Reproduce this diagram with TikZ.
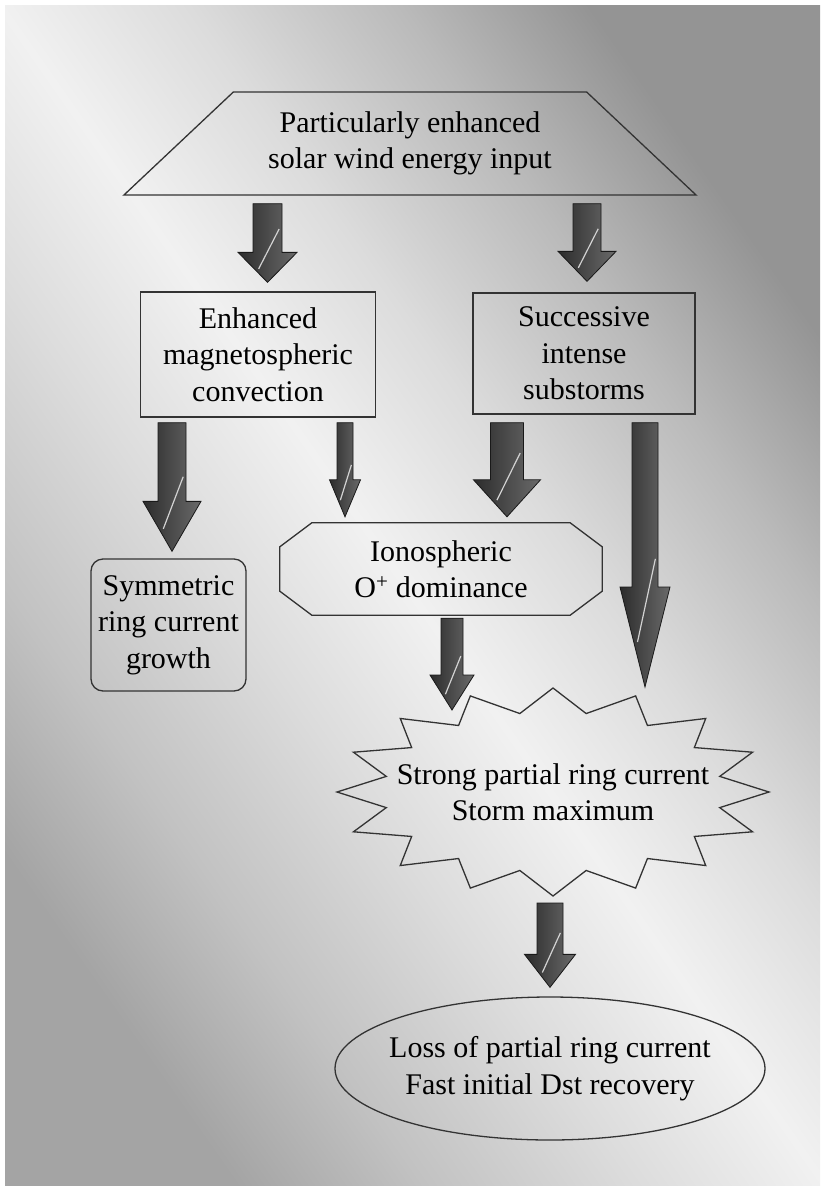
\documentclass[tikz,border=0pt]{standalone}
\usepackage{fontspec}
\setmainfont{Liberation Serif}
\usetikzlibrary{shapes.geometric,calc}

\definecolor{bglight}{HTML}{F1F1F1}
\definecolor{bgsoft}{HTML}{DCDCDC}
\definecolor{bgmidr}{HTML}{BABABA}
\definecolor{bgmidl}{HTML}{C2C2C2}
\definecolor{bgdarkr}{HTML}{949494}
\definecolor{bgdarkl}{HTML}{A4A4A4}
\definecolor{arrowdark}{HTML}{2C2C2C}
\definecolor{arrowlight}{HTML}{6A6A6A}

\pgfdeclareverticalshading{diagband}{100bp}{color(0bp)=(bgdarkl); color(25bp)=(bgdarkl);
  color(33bp)=(bgmidl); color(42bp)=(bgsoft); color(50bp)=(bglight); color(58bp)=(bgsoft);
  color(67bp)=(bgmidr); color(75bp)=(bgdarkr); color(100bp)=(bgdarkr)}

\tikzset{
  flowtext/.style={font=\fontsize{30}{36.5}\selectfont, align=center, inner sep=0pt},
  flowbox/.style={flowtext, draw=black!80, line width=1.3pt},
  outline/.style={draw=black!80, line width=1.3pt},
  fatline/.style={draw=black!90, line width=0.8pt},
  glint/.style={white!65!gray, line width=1.2pt}
}

% vertical block arrow: start, end, shaft half width, head half width, head length
\newcommand{\fatarrow}[5]{%
  \path (#1) coordinate (fa-s) (#2) coordinate (fa-t);
  \coordinate (fa-e) at (fa-s |- fa-t);
  \shade[fatline, left color=arrowdark, right color=arrowlight]
    ($(fa-s)+(-#3,0)$) -- ($(fa-s)+(#3,0)$) -- ($(fa-e)+(#3,#5)$) -- ($(fa-e)+(#4,#5)$)
    -- (fa-e) -- ($(fa-e)+(-#4,#5)$) -- ($(fa-e)+(-#3,#5)$) -- cycle;
  \draw[glint] ($(fa-e)+({-0.3*#4},{0.45*#5})$) -- ($(fa-e)+({0.8*#3},{1.1*#5+1.4*#3})$);
}

\begin{document}
\begin{tikzpicture}[x=1pt,y=1pt]
        \useasboundingbox (0,0) rectangle (820,-1186);
        \fill[white] (0,0) rectangle (820,-1186);
        \shade[shading=diagband, shading angle=-55] (5,-5) rectangle (820,-1186);

        \node[flowbox, trapezium, trapezium left angle=36, trapezium right angle=36,
          trapezium stretches=true, minimum width=575pt, minimum height=103pt] (src) at (410,-143.5)
          {Particularly enhanced\\solar wind energy input};
        \node[flowbox, minimum width=235pt, minimum height=125pt] (magconv) at (258,-354.5)
          {Enhanced\\magnetospheric\\convection};
        \node[flowbox, minimum width=222pt, minimum height=121pt] (substorm) at (584,-353.5)
          {Successive\\intense\\substorms};
        \node[flowbox, rounded corners=12pt, minimum width=155pt, minimum height=132pt] (symring) at (168.5,-625)
          {Symmetric\\ring current\\growth};
        \node[flowtext, minimum width=322pt, minimum height=92pt] (ion) at (441,-569)
          {Ionospheric\\O\textsuperscript{+} dominance};
        \node[flowtext] (storm) at (553,-792) {Strong partial ring current\\Storm maximum};
        \node[flowbox, ellipse, inner xsep=-14pt, minimum width=430pt, minimum height=143pt] (loss) at (550,-1068.5)
          {Loss of partial ring current\\Fast initial Dst recovery};

        % cut corners round the ion node
        \draw[outline] ($(ion.north west)+(32,0)$) -- ($(ion.north east)+(-32,0)$) -- ($(ion.north east)+(0,-24)$)
          -- ($(ion.south east)+(0,24)$) -- ($(ion.south east)+(-32,0)$) -- ($(ion.south west)+(32,0)$)
          -- ($(ion.south west)+(0,24)$) -- ($(ion.north west)+(0,-24)$) -- cycle;
        % starburst round the storm node
        \draw[outline, shift={(storm.center)}]
          plot[variable=\k, samples at={0,...,31}] ({(216-46*mod(\k,2))*cos(11.25*\k)},{(104-24*mod(\k,2))*sin(11.25*\k)}) -- cycle;

        \fatarrow{$(src.south)+(-142.5,-8)$}{$(magconv.north)+(0,9)$}{14.5}{29.5}{30}
        \fatarrow{$(src.south)+(177,-8)$}{$(substorm.north)+(0,11)$}{14}{29}{30}
        \fatarrow{$(magconv.south)+(-86,-5)$}{$(symring.north)+(0,7)$}{14}{29}{50}
        \fatarrow{$(magconv.south)+(87,-5)$}{$(ion.north)+(0,6)$}{8}{15.5}{37}
        \fatarrow{$(substorm.south)+(-77,-8)$}{$(ion.north)+(0,6)$}{16.5}{33.5}{37}
        \fatarrow{$(substorm.south)+(61,-8)$}{$(storm.center)+(0,105)$}{13}{25}{100}
        \fatarrow{$(ion.south)+(11,-3)$}{$(storm.center)+(0,82)$}{11}{22}{35}
        \fatarrow{$(storm.center)+(-3,-111)$}{$(loss.north)+(0,9)$}{13}{25.5}{33}
      \end{tikzpicture}
\end{document}
